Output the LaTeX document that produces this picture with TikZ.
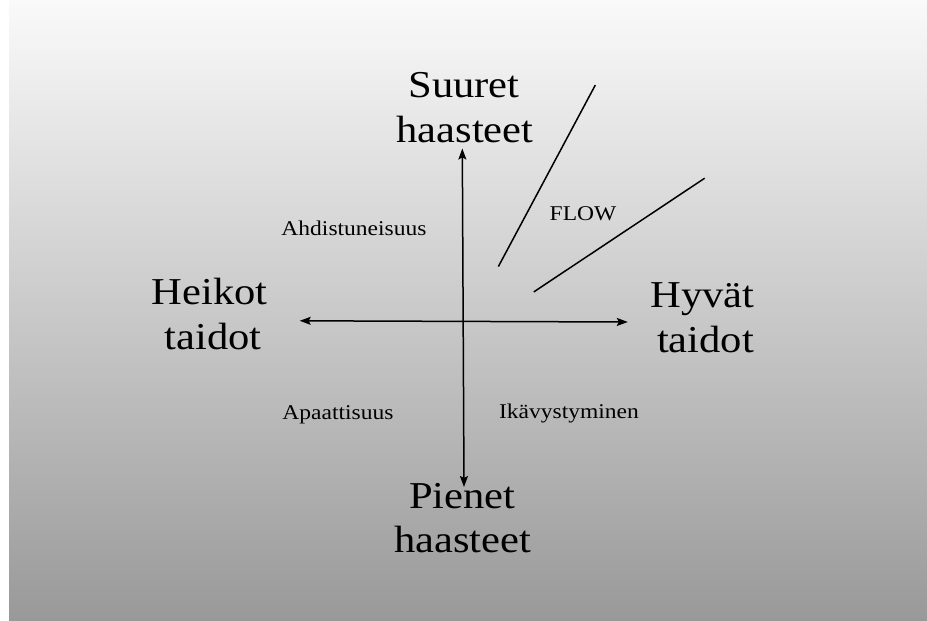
\documentclass[tikz,border=0pt]{standalone}
\usepackage{fontspec}
\setmainfont{Liberation Serif}[FakeStretch=1.12]
\usetikzlibrary{arrows.meta}
\begin{document}
\begin{tikzpicture}[x=1pt,y=-1pt,
  bigtext/.style={font=\fontsize{38}{46}\selectfont, inner sep=0pt, anchor=base, text=black},
  smalltext/.style={font=\fontsize{21}{25}\selectfont, inner sep=0pt, anchor=base, text=black},
  axisline/.style={line width=1.5pt, {Stealth[length=11pt,width=8pt,inset=2pt]}-{Stealth[length=11pt,width=8pt,inset=2pt]}},
  flowline/.style={line width=1.5pt}]
\useasboundingbox (0,0) rectangle (927,621);
\fill[white] (0,0) rectangle (927,621);
\shade[top color=white!98!black, bottom color=black!40] (9,0) rectangle (927,621);
% labels
\node[bigtext] (s1) at (464,97) {Suuret};
\node[bigtext] (s2) at (465,142.6) {haasteet};
\node[bigtext] (h1) at (209.5,304) {Heikot};
\node[bigtext] (h2) at (213,349.7) {taidot};
\node[bigtext] (g1) at (702.5,307) {Hyvät};
\node[bigtext] (g2) at (705.5,352.5) {taidot};
\node[bigtext] (p1) at (462.5,508) {Pienet};
\node[bigtext] (p2) at (462.7,552.5) {haasteet};
\node[smalltext] (ahd) at (354,235) {Ahdistuneisuus};
\node[smalltext] (flow) at (583,220.6) {FLOW};
\node[smalltext] (apa) at (338,419) {Apaattisuus};
\node[smalltext] (ika) at (569,418.6) {Ikävystyminen};
% axes
\coordinate (vtop) at (462.3,148.5);
\coordinate (vbot) at (464,487);
\coordinate (hleft) at (299.7,320.8);
\coordinate (hright) at (627.8,322);
\draw[axisline] (vtop) -- (vbot);
\draw[axisline] (hleft) -- (hright);
% flow channel
\coordinate (fa1) at (498.4,266.5);
\coordinate (fa2) at (595.3,85.1);
\coordinate (fb1) at (533.8,291.9);
\coordinate (fb2) at (704.7,178.2);
\draw[flowline] (fa1) -- (fa2);
\draw[flowline] (fb1) -- (fb2);
\end{tikzpicture}
\end{document}
